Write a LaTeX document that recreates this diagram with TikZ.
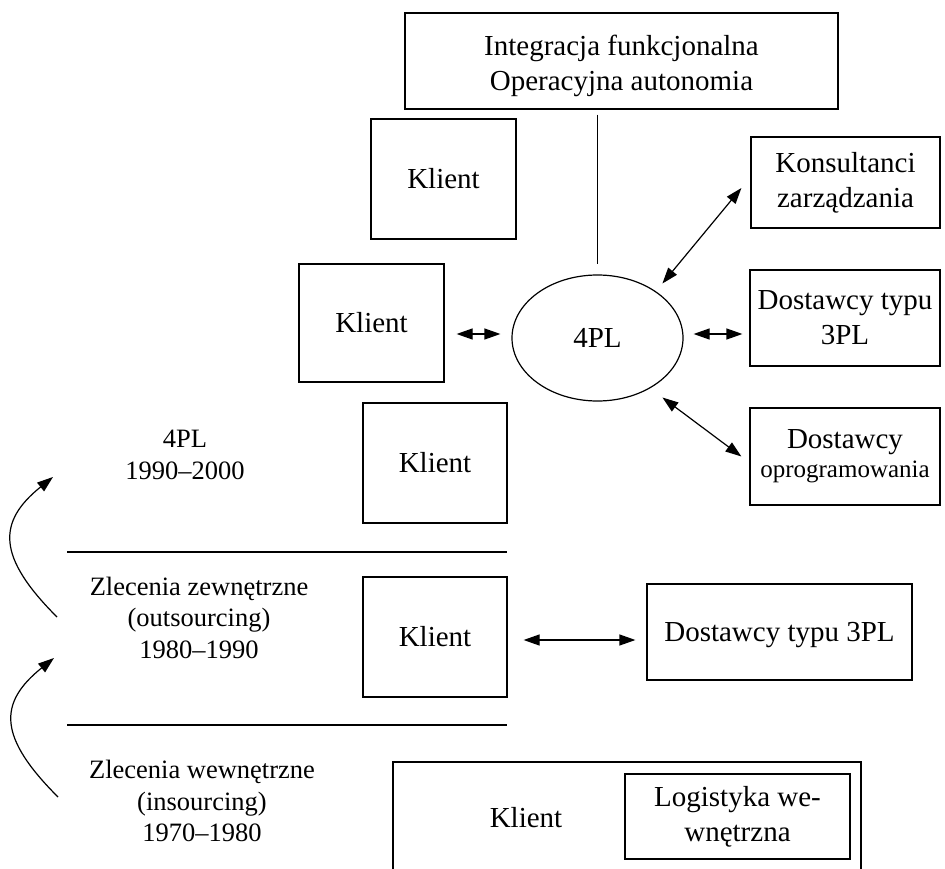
\documentclass[tikz,border=0pt]{standalone}
\usepackage{fontspec}
\setmainfont{Liberation Serif}
\usetikzlibrary{arrows.meta,shapes.geometric}
\begin{document}
\begin{tikzpicture}[x=1pt,y=-1pt,
  box/.style={draw,line width=1.2pt,inner sep=0pt,align=center,font=\fontsize{29}{35}\selectfont},
  txt/.style={inner sep=0pt,align=center,font=\fontsize{29}{35}\selectfont},
  lbl/.style={align=center,inner sep=0pt,font=\fontsize{26.5}{31.5}\selectfont},
  link/.style={line width=1.2pt},
  tip/.tip={Triangle[length=16pt,width=11pt]},
  dbl/.style={link,tip-tip},
  one/.style={link,-tip}]
\useasboundingbox (0,0) rectangle (945,869);

% top section
\node[box,minimum width=433pt,minimum height=96pt] (top) at (621.5,61) {};
\node[txt] (toptxt) at ([yshift=-4.5pt]top.center) {Integracja funkcjonalna\\Operacyjna autonomia};
\node[box,minimum width=145pt,minimum height=120pt] (k1) at (443.5,179) {Klient};
\node[box,minimum width=145pt,minimum height=118pt] (k2) at (371.5,323) {Klient};
\node[box,minimum width=144pt,minimum height=120pt] (k3) at (435,463) {Klient};
\node[box,ellipse,minimum width=171pt,minimum height=126pt] (pl) at (597.5,338) {4PL};
\node[box,minimum width=189pt,minimum height=91pt] (kons) at (845.5,182.5) {Konsultanci\\zarządzania};
\node[box,minimum width=190pt,minimum height=96pt] (d3) at (845,318) {Dostawcy typu\\3PL};
\node[box,minimum width=190pt,minimum height=97pt] (dop) at (845,456.5) {Dostawcy\\[-6pt]\fontsize{25}{30}\selectfont oprogramowania};

\draw[link] ([yshift=-5pt]top.south -| pl.north) -- ([yshift=10pt]pl.north);
\draw[dbl] ([xshift=12pt,yshift=-11pt]k2.east) -- ([xshift=-11pt,yshift=4pt]pl.west);
\draw[dbl] ([xshift=10pt,yshift=4pt]pl.east) -- ([xshift=-7pt,yshift=-16pt]d3.west);
\draw[dbl] ([xshift=4pt,yshift=9.5pt]pl.north east) -- ([xshift=-9pt,yshift=-5.5pt]kons.west);
\draw[dbl] ([xshift=4pt,yshift=-14.5pt]pl.south east) -- ([xshift=-8pt]dop.west);

% left labels
\node[lbl] (l1) at (185,455) {4PL\\1990–2000};
\node[lbl] (l2) at (199,617.5) {Zlecenia zewnętrzne\\(outsourcing)\\1980–1990};
\node[lbl] (l3) at (202,801) {Zlecenia wewnętrzne\\(insourcing)\\1970–1980};

\coordinate (s1a) at (67,552); \coordinate (s1b) at (507,552);
\coordinate (s2a) at (67,725); \coordinate (s2b) at (507,725);
\draw[link] (s1a) -- (s1b);
\draw[link] (s2a) -- (s2b);

\coordinate (c1s) at (57,617); \coordinate (c1e) at (53,477);
\coordinate (c2s) at (58,797); \coordinate (c2e) at (54,658);
\draw[one] (c1s) .. controls (-3,557) and (-3,522) .. (c1e);
\draw[one] (c2s) .. controls (-2,737) and (-2,703) .. (c2e);

% middle row
\node[box,minimum width=144pt,minimum height=120pt] (k4) at (435,637) {Klient};
\node[box,minimum width=265pt,minimum height=96pt,text depth=0pt] (d3b) at (779.5,632) {Dostawcy typu 3PL};
\draw[dbl] ([xshift=16pt,yshift=-3pt]k4.east) -- ([xshift=-11pt,yshift=-8pt]d3b.west);

% bottom row
\coordinate (fa) at (393,872); \coordinate (fb) at (861,762); \coordinate (fc) at (861,872);
\draw[link] (fa) |- (fb) -- (fc);
\node[txt] (k5) at (526,818) {Klient};
\node[box,minimum width=225pt,minimum height=85pt] (lw) at (737.5,816.5) {Logistyka we-\\wnętrzna};
\end{tikzpicture}
\end{document}
